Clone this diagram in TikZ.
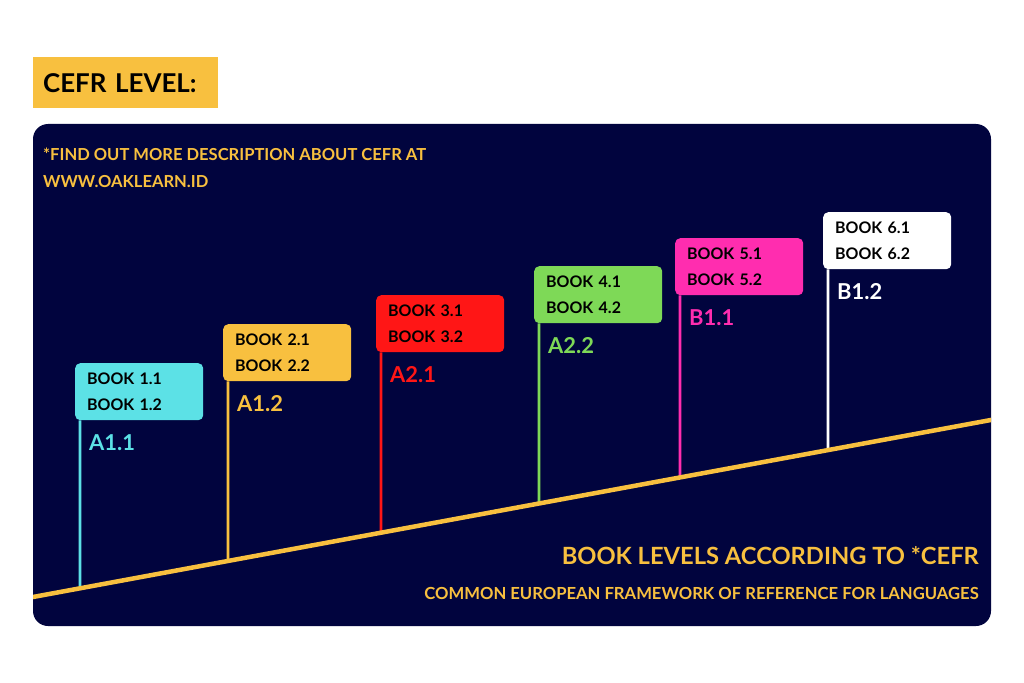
\documentclass[tikz,border=0pt]{standalone}
\usepackage{fontspec}
\setmainfont{Lato}
\usetikzlibrary{positioning}
\definecolor{navy}{RGB}{1,4,62}
\definecolor{cefryellow}{HTML}{F8C03F}
\definecolor{cefrcyan}{HTML}{5CE1E6}
\definecolor{cefrred}{HTML}{FF1616}
\definecolor{cefrgreen}{HTML}{7ED957}
\definecolor{cefrpink}{RGB}{255,45,175}
\begin{document}
\begin{tikzpicture}[x=1bp,y=-1bp,
    flagbox/.style={anchor=north west, text width=104bp, minimum height=57bp, inner xsep=12bp, inner ysep=0pt,
      align=left, rounded corners=5bp, text=black, font=\bfseries\fontsize{16}{26}\selectfont},
    lvl/.style={anchor=west, inner xsep=0pt, font=\bfseries\fontsize{22}{24}\selectfont},
    pole/.style={line width=2.8bp},
    note/.style={anchor=west, inner xsep=0pt, text=cefryellow, font=\bfseries\fontsize{16.6}{20}\selectfont}]
    \useasboundingbox (0,0) rectangle (1024,683);
    \node[anchor=north west, fill=cefryellow, text width=165bp, minimum height=51bp, inner xsep=10bp,
      font=\bfseries\fontsize{26}{30}\selectfont] (head) at (33,57) {CEFR LEVEL:};
    \fill[navy, rounded corners=15bp] (33,124) rectangle (991,626);
    \node[note] (find) at (43,154) {*FIND OUT MORE DESCRIPTION ABOUT CEFR AT};
    \node[note] (site) at (43,182) {WWW.OAKLEARN.ID};
    \foreach \i/\x/\y/\c/\lab/\fy in {1/75/363/cefrcyan/A1.1/588.3, 2/223/324/cefryellow/A1.2/560.8,
        3/376/295/cefrred/A2.1/532.7, 4/534/266/cefrgreen/A2.2/503.5,
        5/675/238/cefrpink/B1.1/477.4, 6/823/212/white/B1.2/450} {
        \node[flagbox, fill=\c] (box\i) at (\x,\y) {BOOK \i.1\\BOOK \i.2};
        \node[lvl, text=\c] (lvl\i) at ([shift={(14,22)}]box\i.south west) {\lab};
        \coordinate (foot\i) at (\x+5,\fy);
        \draw[pole, \c] ([xshift=5bp]box\i.south west) -- (foot\i);
    }
    \begin{scope}
        \clip[rounded corners=15bp] (33,124) rectangle (991,626);
        \draw[line width=4.5bp, cefryellow] (20,599.4) -- (1000,418.3);
    \end{scope}
    \node[note, anchor=east, font=\bfseries\fontsize{23.8}{26}\selectfont] (levels) at (979,556) {BOOK LEVELS ACCORDING TO *CEFR};
    \node[note, anchor=east, font=\bfseries\fontsize{16.7}{20}\selectfont] (cefr) at (979,593) {COMMON EUROPEAN FRAMEWORK OF REFERENCE FOR LANGUAGES};
\end{tikzpicture}
\end{document}
